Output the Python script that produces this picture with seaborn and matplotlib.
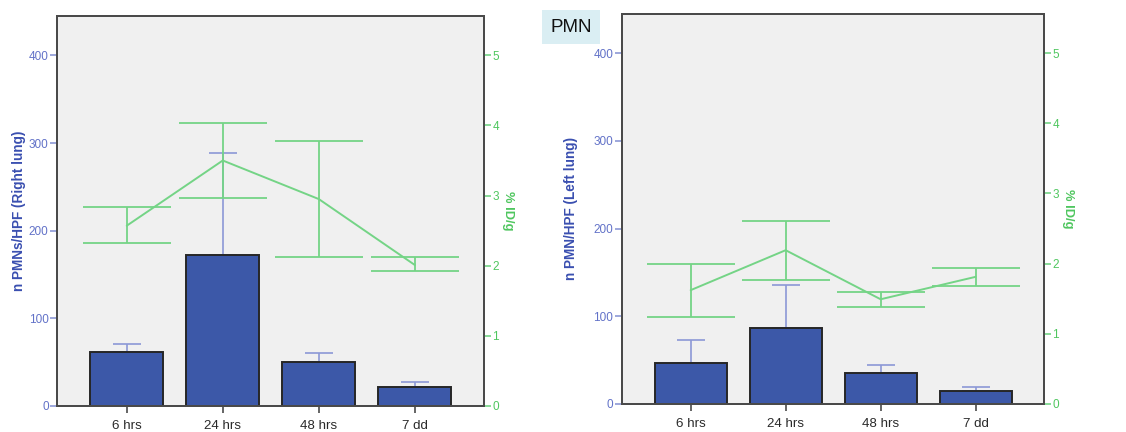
import numpy as np
import pandas as pd
import matplotlib
matplotlib.use("Agg")
import matplotlib.pyplot as plt
import seaborn as sns

categories = ["6 hrs", "24 hrs", "48 hrs", "7 dd"]

# Right lung
right_pmn = [62, 172, 50, 22]
right_pmn_upper = [71, 289, 61, 27]
right_idg = [2.57, 3.50, 2.95, 2.01]
right_idg_upper = [2.83, 4.04, 3.78, 2.12]
right_idg_lower = [2.32, 2.97, 2.13, 1.92]

# Left lung
left_pmn = [47, 86, 35, 14]
left_pmn_upper = [73, 136, 44, 19]
left_idg = [1.62, 2.19, 1.49, 1.81]
left_idg_upper = [1.99, 2.61, 1.59, 1.94]
left_idg_lower = [1.24, 1.77, 1.38, 1.68]

ylabels = ["n PMNs/HPF (Right lung)", "n PMN/HPF (Left lung)"]
y2label = "% ID/g"
left_ticks = [0, 100, 200, 300, 400]
right_ticks = [0, 1, 2, 3, 4, 5]

sns.set_theme(style="white")
plt.rcParams['font.family'] = ['Liberation Sans', 'DejaVu Sans']

BAR = "#3c58a8"
BLUE_TXT = "#6272c8"
BLUE_LBL = "#3a4fb0"
BLUE_ERR = "#8c98d6"
GREEN = "#74d486"
GREEN_TXT = "#4fc65f"
SPINE = "#4a4a4a"

fig = plt.figure(figsize=(11.26, 4.32), dpi=100)
positions = [
    [57/1126, 26/432, 427/1126, 390/432],
    [621.7/1126, 28.3/432, 422.3/1126, 389.7/432],
]
labelpads = [2, 11]
datasets = [
    (right_pmn, right_pmn_upper, right_idg, right_idg_upper, right_idg_lower),
    (left_pmn, left_pmn_upper, left_idg, left_idg_upper, left_idg_lower),
]

for pos, data, ylab, lp in zip(positions, datasets, ylabels, labelpads):
    pmn, pmn_up, idg, idg_up, idg_lo = data
    ax = fig.add_axes(pos)
    ax.set_facecolor("#f0f0f0")
    df = pd.DataFrame({"cat": categories, "pmn": pmn})
    x = np.arange(len(categories))
    # blue error bars (upper only)
    ax.errorbar(x, pmn, yerr=[np.zeros(len(pmn)), np.array(pmn_up) - np.array(pmn)],
                fmt="none", ecolor=BLUE_ERR, elinewidth=1.2, capsize=10, capthick=1.2, zorder=1)
    sns.barplot(data=df, x="cat", y="pmn", ax=ax, color=BAR, edgecolor="#262626",
                linewidth=1.4, width=0.76, saturation=1, errorbar=None, zorder=2)
    ax.set_xlim(-0.726, 3.72)
    ax.set_ylim(0, 445)
    ax.set_yticks(left_ticks)
    ax.set_xlabel("")
    ax.set_ylabel(ylab, color=BLUE_LBL, fontsize=9.8, fontweight="bold", labelpad=lp)
    ax.tick_params(axis="y", colors=BLUE_ERR, labelcolor=BLUE_TXT, labelsize=8.5,
                   length=5, width=1.2, direction="out", left=True, pad=1)
    ax.tick_params(axis="x", colors=SPINE, labelcolor="#2a2a2a", labelsize=9.6,
                   length=5, width=1.2, direction="out", bottom=True, pad=5)
    for s in ax.spines.values():
        s.set_color(SPINE)
        s.set_linewidth(1.4)

    ax2 = ax.twinx()
    ax2.errorbar(x, idg, yerr=[np.array(idg) - np.array(idg_lo), np.array(idg_up) - np.array(idg)],
                 fmt="none", ecolor=GREEN, elinewidth=1.3, capsize=32, capthick=1.3, zorder=3)
    sns.lineplot(x=x, y=idg, ax=ax2, color=GREEN, linewidth=1.4, zorder=4)
    ax2.set_ylim(0, 5.56)
    ax2.set_yticks(right_ticks)
    ax2.set_ylabel(y2label, color=GREEN_TXT, fontsize=9.3, fontweight="bold",
                   rotation=270, labelpad=11)
    ax2.tick_params(axis="y", colors=GREEN, labelcolor=GREEN_TXT, labelsize=8.5,
                    length=5, width=1.2, direction="out", right=True, pad=1)
    for s in ax2.spines.values():
        s.set_color(SPINE)
        s.set_linewidth(1.4)
    ax2.set_xlim(-0.726, 3.72)

fig.text(571/1126, 1 - 27/432, "PMN", ha="center", va="center", fontsize=13.5,
         color="#111111",
         bbox=dict(boxstyle="square,pad=0.45", facecolor="#daeef3", edgecolor="none"))

fig.savefig("out.png", dpi=100, facecolor="white")
